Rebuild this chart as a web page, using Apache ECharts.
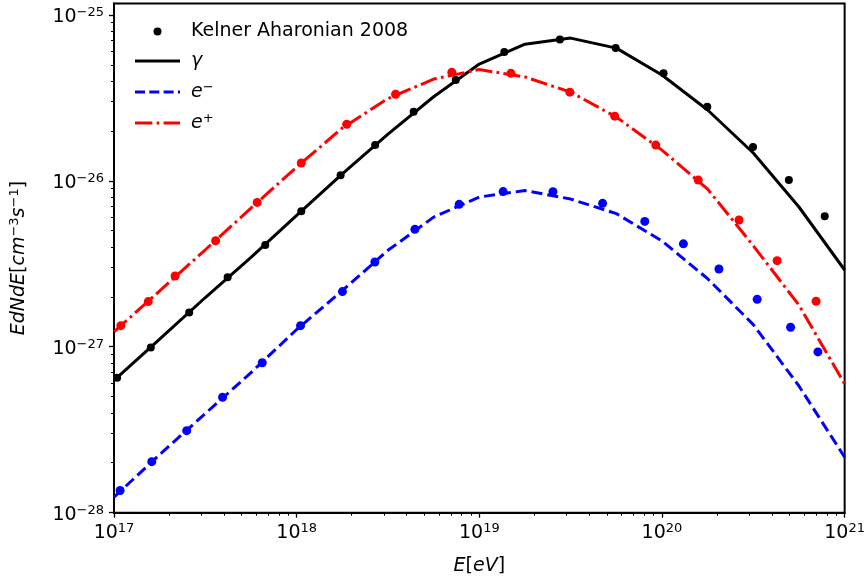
<!DOCTYPE html>
<html><head><meta charset="utf-8">
<script src="https://cdn.jsdelivr.net/npm/echarts@6/dist/echarts.min.js"></script>
<style>html,body{margin:0;padding:0;background:#fff}#c{width:868px;height:582px}</style>
</head><body><div id="c"></div>
<script>
// Model curves (sampled every 0.25 decade), E in eV, EdN/dE in cm^-3 s^-1
const lineE = [1e17, 1.778e17, 3.162e17, 5.623e17, 1e18, 1.778e18, 3.162e18, 5.623e18, 1e19, 1.778e19, 3.162e19, 5.623e19, 1e20, 1.778e20, 3.162e20, 5.623e20, 1e21];
const gammaLine  = [6.27e-28, 1.11e-27, 1.98e-27, 3.46e-27, 6.19e-27, 1.10e-26, 1.91e-26, 3.21e-26, 5.05e-26, 6.65e-26, 7.24e-26, 6.30e-26, 4.34e-26, 2.67e-26, 1.47e-26, 6.95e-27, 2.90e-27];
const eMinusLine = [1.24e-28, 2.24e-28, 3.96e-28, 6.98e-28, 1.27e-27, 2.18e-27, 3.81e-27, 6.04e-27, 7.98e-27, 8.73e-27, 7.76e-27, 6.34e-27, 4.34e-27, 2.57e-27, 1.36e-27, 5.80e-28, 2.16e-28];
const ePlusLine  = [1.23e-27, 2.17e-27, 3.84e-27, 6.84e-27, 1.21e-26, 2.08e-26, 3.13e-26, 4.10e-26, 4.68e-26, 4.22e-26, 3.42e-26, 2.42e-26, 1.53e-26, 8.91e-27, 4.06e-27, 1.78e-27, 5.96e-28];

// Kelner & Aharonian 2008 points
const gammaKAE = [1.04e17, 1.59e17, 2.58e17, 4.19e17, 6.73e17, 1.06e18, 1.74e18, 2.69e18, 4.37e18, 7.43e18, 1.37e19, 2.76e19, 5.58e19, 1.02e20, 1.77e20, 3.15e20, 4.95e20, 7.78e20];
const gammaKA  = [6.50e-28, 9.91e-28, 1.61e-27, 2.62e-27, 4.10e-27, 6.56e-27, 1.08e-26, 1.64e-26, 2.61e-26, 4.05e-26, 5.98e-26, 7.11e-26, 6.30e-26, 4.44e-26, 2.79e-26, 1.60e-26, 1.01e-26, 6.12e-27];
const ePlusKAE = [1.09e17, 1.54e17, 2.16e17, 3.60e17, 6.08e17, 1.06e18, 1.88e18, 3.48e18, 7.07e18, 1.49e19, 3.13e19, 5.51e19, 9.25e19, 1.58e20, 2.64e20, 4.27e20, 6.98e20];
const ePlusKA  = [1.34e-27, 1.87e-27, 2.67e-27, 4.35e-27, 7.41e-27, 1.28e-26, 2.19e-26, 3.32e-26, 4.50e-26, 4.44e-26, 3.42e-26, 2.45e-26, 1.64e-26, 1.01e-26, 5.80e-27, 3.30e-27, 1.88e-27];
const eMinusKAE = [1.08e17, 1.61e17, 2.50e17, 3.93e17, 6.48e17, 1.05e18, 1.78e18, 2.68e18, 4.44e18, 7.76e18, 1.35e19, 2.53e19, 4.73e19, 8.05e19, 1.31e20, 2.05e20, 3.32e20, 5.06e20, 7.14e20];
const eMinusKA  = [1.36e-28, 2.03e-28, 3.12e-28, 4.96e-28, 8.01e-28, 1.34e-27, 2.15e-27, 3.24e-27, 5.10e-27, 7.21e-27, 8.61e-27, 8.59e-27, 7.31e-27, 5.69e-27, 4.17e-27, 2.94e-27, 1.93e-27, 1.31e-27, 9.31e-28];

// Axis ticks (powers of ten shown as labels)
const xMajorExp = [17, 18, 19, 20, 21];
const yMajorExp = [-28, -27, -26, -25];
const yMaxValue = 1.17e-25;

// ECharts' log scale rounds tiny numbers, so plot in units of 1e17 eV and 1e-28 cm^-3 s^-1
const X_UNIT_EXP = 17, Y_UNIT_EXP = -28;
const sx = v => v / Math.pow(10, X_UNIT_EXP);
const sy = v => v / Math.pow(10, Y_UNIT_EXP);
const xMajor = xMajorExp.map(e => Math.pow(10, e - X_UNIT_EXP));
const yMajor = yMajorExp.map(e => Math.pow(10, e - Y_UNIT_EXP));
const xMin = xMajor[0], xMax = xMajor[xMajor.length - 1];
const yMin = yMajor[0], yMax = sy(yMaxValue);
const minorMult = [2, 3, 4, 5, 6, 7, 8, 9];
const xMinor = [], yMinor = [];
xMajor.slice(0, -1).forEach(d => minorMult.forEach(m => xMinor.push(m * d)));
yMajor.forEach(d => minorMult.forEach(m => { const v = m * d; if (v < yMax) yMinor.push(v); }));

const legendNames = ['Kelner Aharonian 2008', 'γ', 'e⁻', 'e⁺'];

const FONT = 'DejaVu Sans';
const zip = (a, b) => a.map((v, i) => [sx(v), sy(b[i])]);
function makePowLabel(unitExp) {
  return function (v) {
    const l = Math.log10(v);
    const e = Math.round(l);
    if (Math.abs(l - e) > 1e-6) return '';
    return '{b|10}{s|' + String(e + unitExp).replace('-', '\u2212') + '}';
  };
}
const labelRich = {
  b: { fontSize: 19, fontFamily: FONT, color: '#000', lineHeight: 22 },
  s: { fontSize: 13, fontFamily: FONT, color: '#000', lineHeight: 14, verticalAlign: 'top' }
};
const nameRich = {
  i: { fontSize: 19, fontFamily: FONT, fontStyle: 'italic', color: '#000', lineHeight: 22 },
  n: { fontSize: 19, fontFamily: FONT, color: '#000', lineHeight: 22 },
  s: { fontSize: 13, fontFamily: FONT, color: '#000', lineHeight: 14, verticalAlign: 'top' }
};

const chart = echarts.init(document.getElementById('c'), null, { renderer: 'canvas' });
chart.setOption({
  animation: false,
  backgroundColor: '#fff',
  textStyle: { fontFamily: FONT },
  grid: { left: 114, right: 23, top: 3.5, bottom: 69.3, show: true, borderColor: '#000', borderWidth: 2, containLabel: false },
  legend: {
    data: [
      { name: legendNames[0], icon: 'circle' },
      { name: legendNames[1], icon: 'path://M0,0H45V3H0Z' },
      { name: legendNames[2], icon: 'path://M0,0H10V3H0Z M14.3,0H24.3V3H14.3Z M28.6,0H38.6V3H28.6Z M42.9,0H45V3H42.9Z' },
      { name: legendNames[3], icon: 'path://M0,0H17.3V3H0Z M21.6,0H24.3V3H21.6Z M28.6,0H45V3H28.6Z' }
    ],
    orient: 'vertical', left: 130, top: 17, itemWidth: 45, itemHeight: 8, itemGap: 10.5,
    itemStyle: { borderWidth: 0 },
    selectedMode: false,
    formatter: function (name) {
      if (name === 'γ') return '{i|γ}';
      if (name === 'e⁻') return '{i|e}{s|\u2212}';
      if (name === 'e⁺') return '{i|e}{s|+}';
      return '{n|' + name + '}';
    },
    textStyle: { fontSize: 19, fontFamily: FONT, color: '#000', padding: [0, 0, 0, 6], rich: nameRich }
  },
  xAxis: [{
    type: 'log', logBase: 10, min: xMin, max: xMax,
    name: '{i|E}{n|[}{i|eV}{n|]}', nameLocation: 'middle', nameGap: 42,
    nameTextStyle: { fontSize: 19, rich: nameRich },
    axisLine: { show: true, lineStyle: { color: '#000', width: 2 } },
    axisTick: { show: true, inside: false, length: 5, lineStyle: { color: '#000', width: 1.3 }, customValues: xMajor },
    axisLabel: { margin: 9, formatter: makePowLabel(X_UNIT_EXP), rich: labelRich, customValues: xMajor },
    splitLine: { show: false }, minorTick: { show: false }, minorSplitLine: { show: false }
  }, {
    type: 'log', logBase: 10, min: xMin, max: xMax, position: 'bottom',
    axisLine: { show: false },
    axisTick: { show: true, inside: false, length: 3, lineStyle: { color: '#000', width: 1 }, customValues: xMinor },
    axisLabel: { show: false }, splitLine: { show: false }
  }],
  yAxis: [{
    type: 'log', logBase: 10, min: yMin, max: yMax,
    name: '{i|EdNdE}{n|[}{i|cm}{s|\u22123}{i|s}{s|\u22121}{n|]}', nameLocation: 'middle', nameGap: 84,
    nameTextStyle: { fontSize: 19, rich: nameRich },
    axisLine: { show: true, lineStyle: { color: '#000', width: 2 } },
    axisTick: { show: true, inside: false, length: 5, lineStyle: { color: '#000', width: 1.3 }, customValues: yMajor },
    axisLabel: { margin: 10, padding: [4, 0, 0, 0], formatter: makePowLabel(Y_UNIT_EXP), rich: labelRich, customValues: yMajor },
    splitLine: { show: false }
  }, {
    type: 'log', logBase: 10, min: yMin, max: yMax, position: 'left',
    axisLine: { show: false },
    axisTick: { show: true, inside: false, length: 3, lineStyle: { color: '#000', width: 1 }, customValues: yMinor },
    axisLabel: { show: false }, splitLine: { show: false }
  }],
  series: [
    { name: legendNames[1], type: 'line', data: zip(lineE, gammaLine), color: '#000000', symbol: 'none',
      lineStyle: { color: '#000000', width: 3 }, z: 3 },
    { name: legendNames[2], type: 'line', data: zip(lineE, eMinusLine), color: '#0000ff', symbol: 'none',
      lineStyle: { color: '#0000ff', width: 3, type: [11, 5] }, z: 3 },
    { name: legendNames[3], type: 'line', data: zip(lineE, ePlusLine), color: '#ff0000', symbol: 'none',
      lineStyle: { color: '#ff0000', width: 3, type: [17, 4.3, 2.7, 4.3] }, z: 3 },
    { name: legendNames[0], type: 'scatter', data: zip(gammaKAE, gammaKA), color: '#000000', symbolSize: 8,
      itemStyle: { opacity: 1 }, z: 4 },
    { name: 'KA e-', type: 'scatter', data: zip(eMinusKAE, eMinusKA), color: '#0000ff', symbolSize: 9,
      itemStyle: { opacity: 1 }, z: 4 },
    { name: 'KA e+', type: 'scatter', data: zip(ePlusKAE, ePlusKA), color: '#ff0000', symbolSize: 9,
      itemStyle: { opacity: 1 }, z: 4 }
  ]
});
</script>
</body></html>
